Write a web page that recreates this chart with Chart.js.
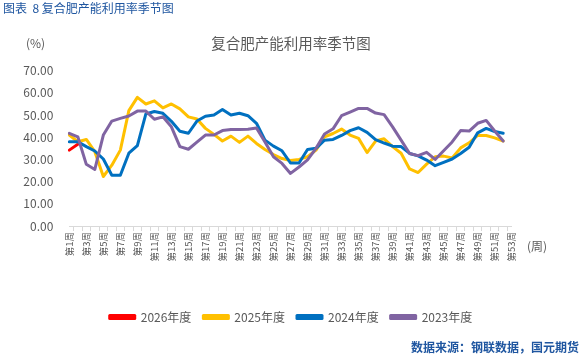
<!DOCTYPE html>
<html><head><meta charset="utf-8">
<script src="https://cdn.jsdelivr.net/npm/chart.js@4.4.1/dist/chart.umd.min.js"></script>
<style>
html,body{margin:0;padding:0;background:#fff;}
#wrap{position:relative;width:582px;height:355px;overflow:hidden;font-family:"Noto Sans CJK SC","Microsoft YaHei",sans-serif;}
canvas{position:absolute;left:0;top:0;}
.t{position:absolute;white-space:nowrap;}
</style></head><body>
<div id="wrap">
<canvas id="c" width="582" height="355"></canvas>
<div class="t" style="left:3px;top:2px;font-size:12px;line-height:12px;color:#1f56a0;">图表&nbsp;&nbsp;8&nbsp;复合肥产能利用率季节图</div>
<div class="t" style="left:0;width:582px;top:35px;text-align:center;font-size:14.5px;line-height:15px;color:#595959;">复合肥产能利用率季节图</div>
<div class="t" style="left:26px;top:37px;font-size:12px;line-height:12px;color:#595959;">(%)</div>
<div class="t" style="left:527px;top:240px;font-size:12px;line-height:12px;color:#595959;">(周)</div>
<div class="t" style="right:3px;top:341px;font-size:12px;line-height:12px;color:#1f56a0;font-weight:bold;">数据来源：钢联数据，国元期货</div>
</div>
<script>
const weeks = [];
for (let i = 1; i <= 53; i++) weeks.push('第' + i + '周');

const s2026 = [34.2, 36.8];

const s2025 = [41.0, 38.0, 39.0, 33.5, 22.3, 27.4, 34.2, 52.0, 58.0, 55.0,
  56.4, 53.2, 55.0, 52.8, 49.2, 48.2, 44.0, 41.3, 38.3, 40.5,
  37.7, 40.5, 37.2, 34.5, 32.2, 30.4, 29.5, 30.0, 31.2, 34.2,
  40.2, 41.7, 43.7, 41.0, 39.5, 33.1, 38.3, 39.3, 35.8, 32.8,
  25.7, 24.1, 27.9, 31.2, 31.5, 30.7, 35.2, 37.5, 40.8, 40.8,
  39.7, 38.3];

const s2024 = [38.0, 38.0, 35.8, 33.8, 30.2, 22.9, 22.9, 32.8, 36.2, 50.5,
  51.6, 50.8, 47.2, 42.7, 41.8, 47.3, 49.5, 50.0, 52.5, 50.0,
  50.8, 49.7, 46.3, 38.7, 36.0, 33.9, 28.4, 28.4, 34.5, 35.0,
  38.7, 39.0, 40.8, 43.0, 44.3, 42.2, 38.9, 37.4, 36.0, 35.8,
  32.7, 31.6, 29.7, 27.2, 28.7, 30.2, 32.7, 35.5, 42.0, 44.0,
  42.6, 41.8];

const s2023 = [41.8, 40.2, 27.8, 25.5, 41.0, 47.3, 48.5, 49.6, 51.8, 51.8,
  48.1, 49.2, 44.7, 35.8, 34.6, 37.8, 41.0, 41.0, 43.0, 43.5,
  43.5, 43.6, 44.2, 37.9, 31.2, 28.2, 23.7, 26.6, 29.8, 35.0,
  41.5, 43.8, 49.7, 51.3, 53.0, 53.0, 50.9, 50.2, 44.7, 38.7,
  32.7, 31.7, 33.2, 30.0, 33.9, 37.9, 43.0, 42.8, 46.3, 47.6,
  42.8, 38.3];

const FAMILY = '"Noto Sans CJK SC","Microsoft YaHei",sans-serif';
Chart.defaults.font.family = FAMILY;

new Chart(document.getElementById('c'), {
  type: 'line',
  data: {
    labels: weeks,
    datasets: [
      {label: '2026年度', data: s2026, borderColor: '#FF0000', backgroundColor: '#FF0000', order: 4},
      {label: '2025年度', data: s2025, borderColor: '#FFC000', backgroundColor: '#FFC000', order: 3},
      {label: '2024年度', data: s2024, borderColor: '#0070C0', backgroundColor: '#0070C0', order: 2},
      {label: '2023年度', data: s2023, borderColor: '#8064A2', backgroundColor: '#8064A2', order: 1}
    ]
  },
  options: {
    responsive: false,
    animation: false,
    devicePixelRatio: 1,
    elements: {
      line: {borderWidth: 3, tension: 0, borderJoinStyle: 'round', borderCapStyle: 'round'},
      point: {radius: 0, hoverRadius: 0}
    },
    layout: {padding: {left: 0, right: 0, top: 70.7, bottom: 22}},
    plugins: {
      tooltip: {enabled: false},
      title: {display: false},
      legend: {
        position: 'bottom',
        labels: {
          boxWidth: 25, boxHeight: 3, padding: 12, color: '#595959',
          font: {size: 12, family: FAMILY},
          sort: (a, b) => a.datasetIndex - b.datasetIndex
        }
      }
    },
    scales: {
      x: {
        grid: {drawOnChartArea: false, drawTicks: true, tickLength: 5, color: '#d9d9d9', offset: true},
        border: {color: '#d9d9d9'},
        ticks: {
          autoSkip: false, maxRotation: 90, minRotation: 90, padding: 1,
          color: '#595959', font: {size: 9.5, family: FAMILY},
          callback: function (v, i) { return i % 2 === 0 ? this.getLabelForValue(v) : ''; }
        },
        afterFit(s) { s.height = 73; }
      },
      y: {
        min: 0, max: 70,
        ticks: {stepSize: 10, padding: 16, color: '#595959', font: {size: 12, family: FAMILY},
          callback: v => Number(v).toFixed(2)},
        grid: {display: false, drawTicks: false},
        border: {display: false},
        afterFit(s) { s.width = 69.3; }
      },
      yR: {
        position: 'right', display: true,
        grid: {display: false, drawTicks: false},
        border: {display: false},
        ticks: {display: false},
        afterFit(s) { s.width = 70.3; }
      }
    }
  }
});
</script>
</body></html>
